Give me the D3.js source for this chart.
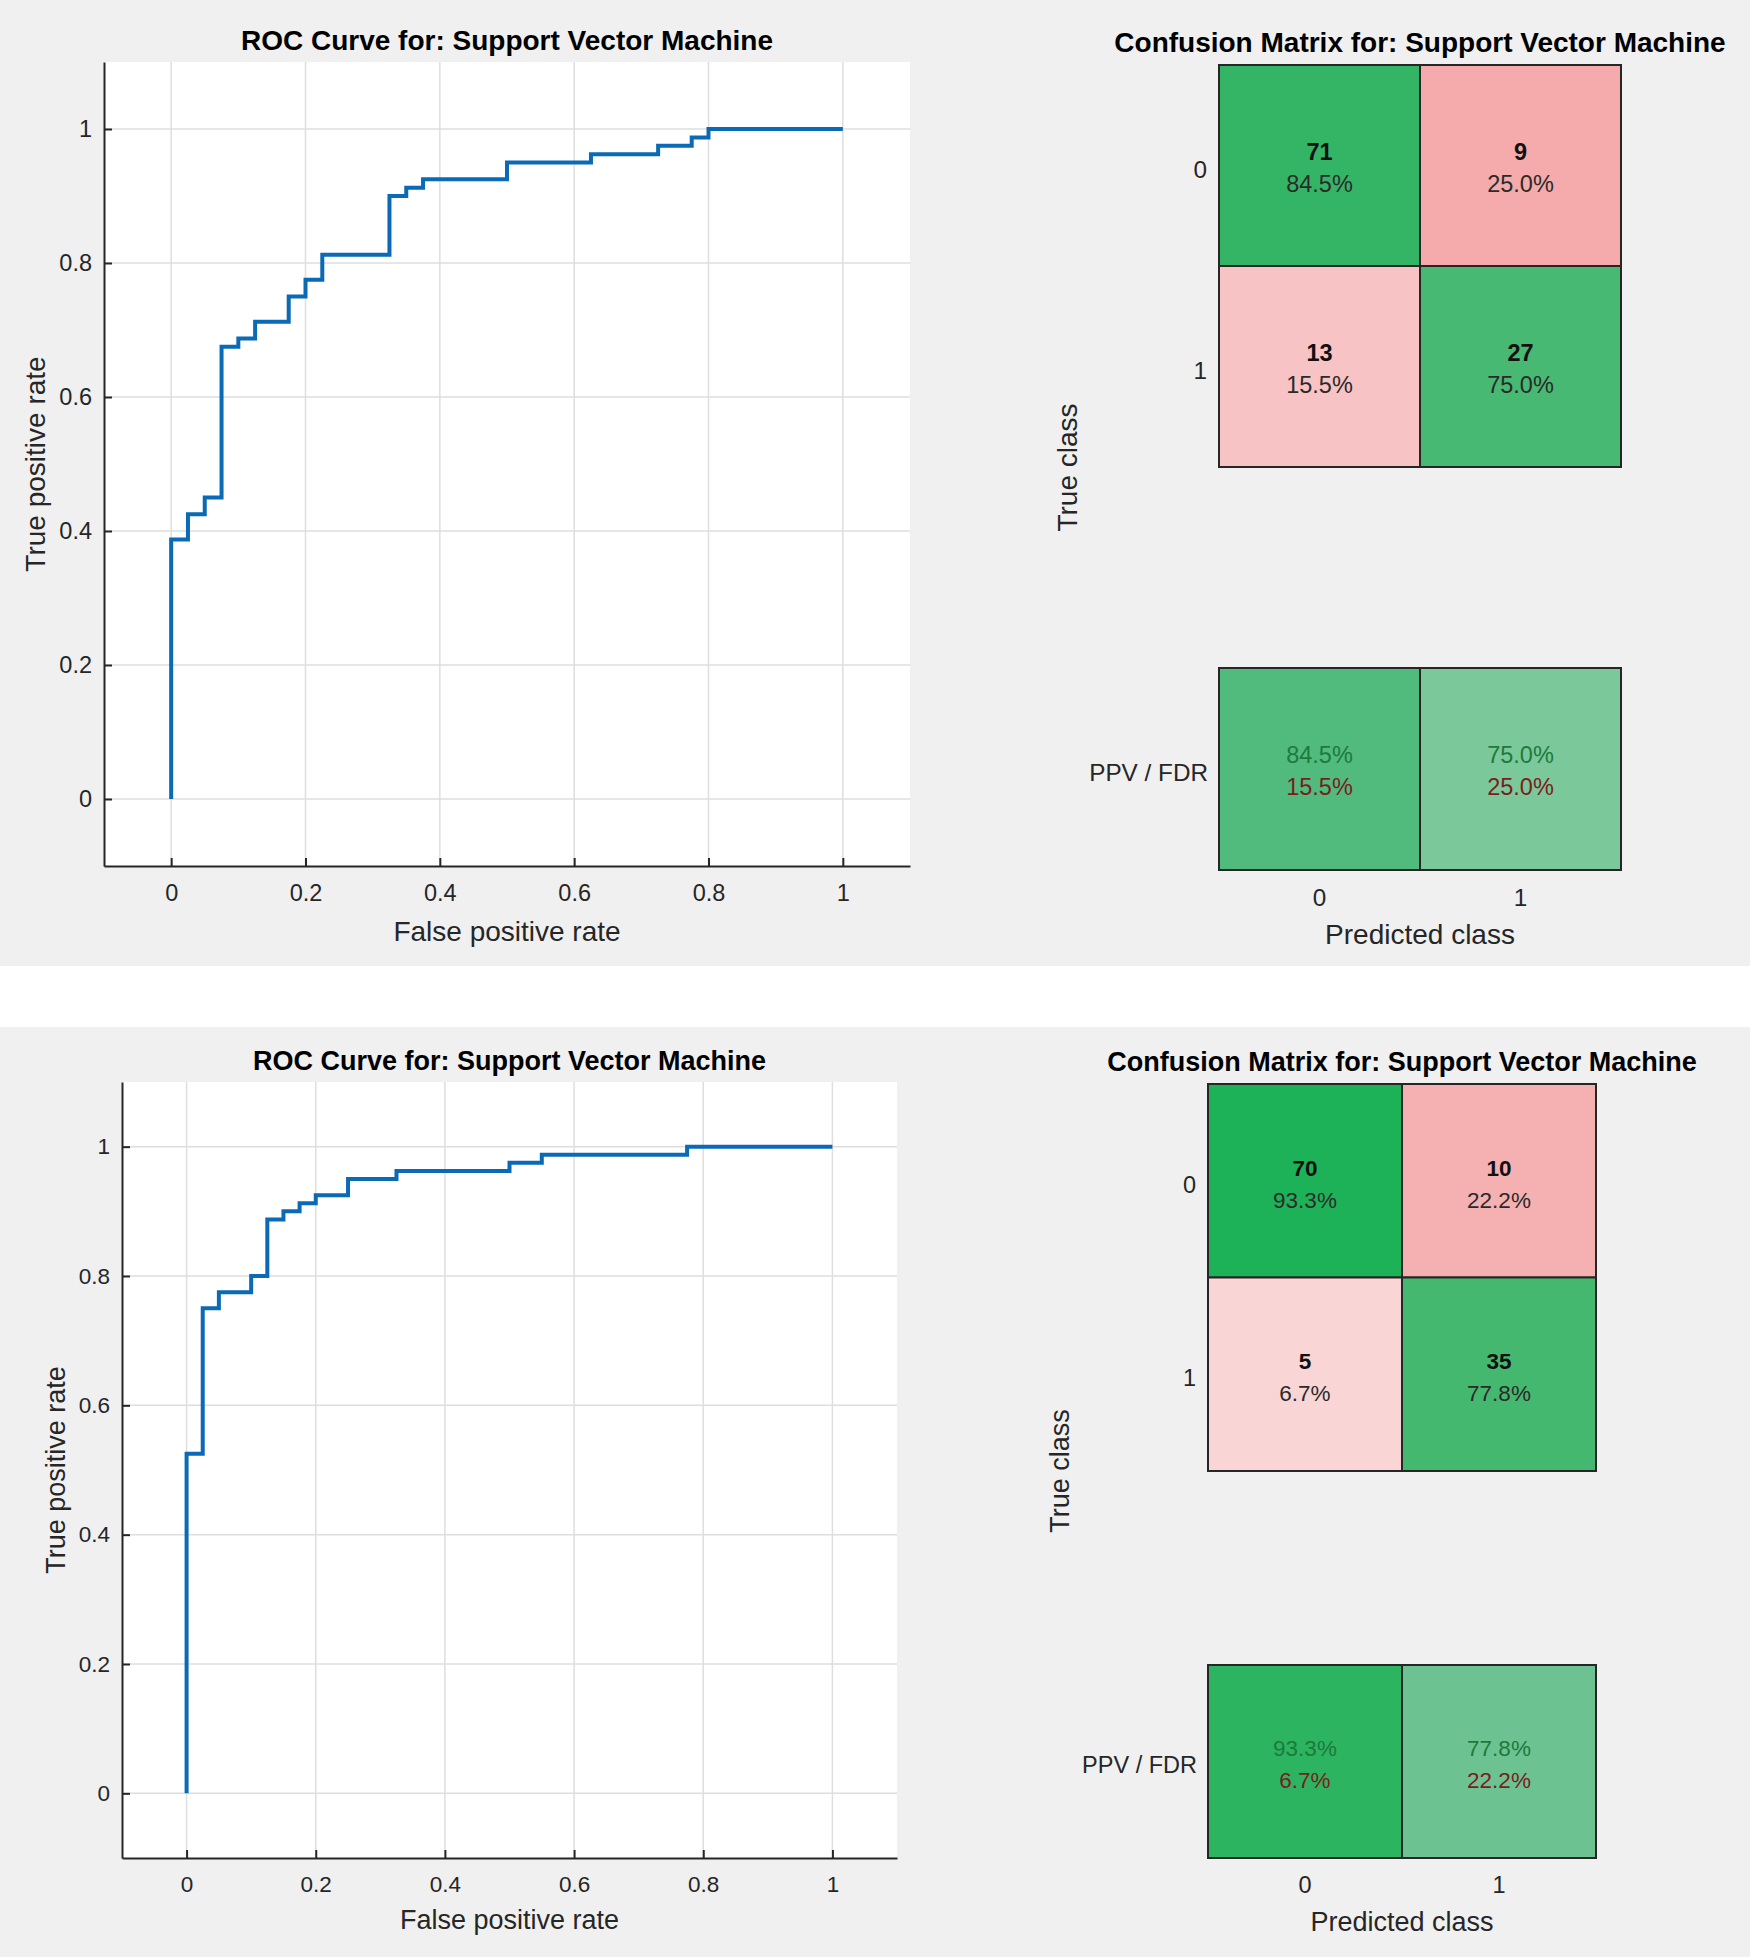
<!DOCTYPE html>
<html>
<head>
<meta charset="utf-8">
<script src="https://cdn.jsdelivr.net/npm/d3@7"></script>
<style>
  body { margin: 0; background: #ffffff; }
  text { font-family: "Liberation Sans", Arial, Helvetica, sans-serif; }
</style>
</head>
<body>
<div class="svg-content"></div>
<script>
// ROC corners (false positive rate, true positive rate), drawn as steps
const roc1Fpr = [0, 0, 0.025, 0.05, 0.075, 0.1, 0.125, 0.175, 0.2, 0.225, 0.325, 0.35, 0.375, 0.5, 0.625, 0.725, 0.775, 0.8, 1];
const roc1Tpr = [0, 0.3875, 0.425, 0.45, 0.675, 0.6875, 0.7125, 0.75, 0.775, 0.8125, 0.9, 0.9125, 0.925, 0.95, 0.9625, 0.975, 0.9875, 1, 1];
const roc2Fpr = [0, 0, 0.025, 0.05, 0.1, 0.125, 0.15, 0.175, 0.2, 0.25, 0.325, 0.5, 0.55, 0.775, 1];
const roc2Tpr = [0, 0.525, 0.75, 0.775, 0.8, 0.8875, 0.9, 0.9125, 0.925, 0.95, 0.9625, 0.975, 0.9875, 1, 1];

const rocTicks = [0, 0.2, 0.4, 0.6, 0.8, 1];
const rocTickLabels = ["0", "0.2", "0.4", "0.6", "0.8", "1"];

// confusion matrices: rows = true class, cols = predicted class
const classes = ["0", "1"];
const cm1Counts = [[71, 9], [13, 27]];
const cm2Counts = [[70, 10], [5, 35]];

const rocTitle = "ROC Curve for: Support Vector Machine";
const cmTitle = "Confusion Matrix for: Support Vector Machine";

// styles
const bg = "#f0f0f0";
const axisColor = "#262626";
const gridColor = "#dedede";
const lineColor = "#0a6ab6";
const cm1Fill = [["#34b566", "#f5aaab"], ["#f8c3c4", "#47b973"]];
const ppv1Fill = ["#50bb7d", "#7bc89a"];
const cm2Fill = [["#1eb258", "#f5b0b1"], ["#f9d5d6", "#45b870"]];
const ppv2Fill = ["#2cb460", "#6cc391"];

const svgWidth = 1750;
const svgHeight = 1957;

let svg = d3.select(".svg-content")
            .append("svg")
            .attr("width", svgWidth)
            .attr("height", svgHeight);

svg.append("rect").attr("x", 0).attr("y", 0).attr("width", svgWidth).attr("height", 966).attr("fill", bg);
svg.append("rect").attr("x", 0).attr("y", 1027).attr("width", svgWidth).attr("height", svgHeight - 1027).attr("fill", bg);

function drawRoc(fpr, tpr, box) {
  const g = svg.append("g");
  const xScale = d3.scaleLinear().domain([-0.1, 1.1]).range([box.left, box.right]);
  const yScale = d3.scaleLinear().domain([-0.1, 1.1]).range([box.bottom, box.top]);

  g.append("rect")
   .attr("x", box.left).attr("y", box.top)
   .attr("width", box.right - box.left).attr("height", box.bottom - box.top)
   .attr("fill", "#ffffff");

  // grid
  g.selectAll(".gx").data(rocTicks).enter().append("line")
   .attr("x1", d => xScale(d)).attr("x2", d => xScale(d))
   .attr("y1", box.top).attr("y2", box.bottom)
   .attr("stroke", gridColor).attr("stroke-width", 1.5);
  g.selectAll(".gy").data(rocTicks).enter().append("line")
   .attr("y1", d => yScale(d)).attr("y2", d => yScale(d))
   .attr("x1", box.left).attr("x2", box.right)
   .attr("stroke", gridColor).attr("stroke-width", 1.5);

  const xAxis = d3.axisBottom(xScale)
                  .tickValues(rocTicks)
                  .tickFormat((d, i) => rocTickLabels[i])
                  .tickSizeInner(-8).tickSizeOuter(0)
                  .tickPadding(box.xPad);
  const yAxis = d3.axisLeft(yScale)
                  .tickValues(rocTicks)
                  .tickFormat((d, i) => rocTickLabels[i])
                  .tickSizeInner(-8).tickSizeOuter(0)
                  .tickPadding(12);

  const gx = g.append("g")
              .attr("transform", "translate(0," + box.bottom + ")")
              .call(xAxis);
  const gy = g.append("g")
              .attr("transform", "translate(" + box.left + ",0)")
              .call(yAxis);
  [gx, gy].forEach(a => {
    a.select(".domain").attr("stroke", axisColor).attr("stroke-width", 2);
    a.selectAll(".tick line").attr("stroke", axisColor).attr("stroke-width", 2);
    a.selectAll(".tick text").attr("fill", axisColor).attr("font-size", box.tickFont);
  });

  const pts = fpr.map((f, i) => [f, tpr[i]]);
  const line = d3.line()
                 .x(d => xScale(d[0]))
                 .y(d => yScale(d[1]))
                 .curve(d3.curveStepAfter);
  g.append("path")
   .datum(pts)
   .attr("d", line)
   .attr("fill", "none")
   .attr("stroke", lineColor)
   .attr("stroke-width", 4);

  g.append("text")
   .attr("x", (box.left + box.right) / 2).attr("y", box.titleY).attr("dy", "0.35em")
   .attr("text-anchor", "middle").attr("font-weight", "bold")
   .attr("font-size", box.titleFont).attr("fill", "#000")
   .text(rocTitle);
  g.append("text")
   .attr("x", (box.left + box.right) / 2).attr("y", box.xLabelY).attr("dy", "0.35em")
   .attr("text-anchor", "middle").attr("font-size", box.labelFont).attr("fill", axisColor)
   .text("False positive rate");
  g.append("text")
   .attr("transform", "translate(" + box.yLabelX + "," + (box.top + box.bottom) / 2 + ") rotate(-90)")
   .attr("dy", "0.35em")
   .attr("text-anchor", "middle").attr("font-size", box.labelFont).attr("fill", axisColor)
   .text("True positive rate");
}

function drawCm(counts, fill, ppvFill, box) {
  const g = svg.append("g");
  const colSum = [0, 1].map(j => counts[0][j] + counts[1][j]);
  const pct = d3.format(".1%");

  const xBand = d3.scaleBand().domain(classes).range([box.left, box.right]);
  const yBand = d3.scaleBand().domain(classes).range([box.top, box.bottom]);

  const cells = [];
  classes.forEach((r, i) => classes.forEach((c, j) => {
    cells.push({ r: r, c: c, n: counts[i][j], p: counts[i][j] / colSum[j], fill: fill[i][j] });
  }));

  g.selectAll(".cell").data(cells).enter().append("rect")
   .attr("x", d => xBand(d.c)).attr("y", d => yBand(d.r))
   .attr("width", xBand.bandwidth()).attr("height", yBand.bandwidth())
   .attr("fill", d => d.fill)
   .attr("stroke", axisColor).attr("stroke-width", 2);

  g.selectAll(".cnt").data(cells).enter().append("text")
   .attr("x", d => xBand(d.c) + xBand.bandwidth() / 2)
   .attr("y", d => yBand(d.r) + yBand.bandwidth() / 2 + box.cntOff)
   .attr("dy", "0.35em").attr("text-anchor", "middle")
   .attr("font-weight", "bold").attr("font-size", box.cellFont).attr("fill", "#111")
   .text(d => d.n);
  g.selectAll(".pct").data(cells).enter().append("text")
   .attr("x", d => xBand(d.c) + xBand.bandwidth() / 2)
   .attr("y", d => yBand(d.r) + yBand.bandwidth() / 2 + box.pctOff)
   .attr("dy", "0.35em").attr("text-anchor", "middle")
   .attr("font-size", box.cellFont).attr("fill", "#2a2a2a")
   .text(d => pct(d.p));

  // PPV / FDR summary row
  const summary = classes.map((c, j) => ({ c: c, ppv: counts[j][j] / colSum[j], fill: ppvFill[j] }));
  g.selectAll(".ppv").data(summary).enter().append("rect")
   .attr("x", d => xBand(d.c)).attr("y", box.ppvTop)
   .attr("width", xBand.bandwidth()).attr("height", box.ppvBottom - box.ppvTop)
   .attr("fill", d => d.fill)
   .attr("stroke", axisColor).attr("stroke-width", 2);
  const ppvMid = (box.ppvTop + box.ppvBottom) / 2;
  g.selectAll(".ppvt").data(summary).enter().append("text")
   .attr("x", d => xBand(d.c) + xBand.bandwidth() / 2)
   .attr("y", ppvMid + box.cntOff).attr("dy", "0.35em").attr("text-anchor", "middle")
   .attr("font-size", box.cellFont).attr("fill", "#1d7a3c")
   .text(d => pct(d.ppv));
  g.selectAll(".fdrt").data(summary).enter().append("text")
   .attr("x", d => xBand(d.c) + xBand.bandwidth() / 2)
   .attr("y", ppvMid + box.pctOff).attr("dy", "0.35em").attr("text-anchor", "middle")
   .attr("font-size", box.cellFont).attr("fill", "#7a1d1d")
   .text(d => pct(1 - d.ppv));

  // tick labels
  g.selectAll(".yt").data(classes).enter().append("text")
   .attr("x", box.left - 12).attr("y", d => yBand(d) + yBand.bandwidth() / 2 + 4)
   .attr("dy", "0.35em").attr("text-anchor", "end")
   .attr("font-size", box.tickFont).attr("fill", axisColor)
   .text(d => d);
  g.append("text")
   .attr("x", box.left - 11).attr("y", ppvMid + 3).attr("dy", "0.35em").attr("text-anchor", "end")
   .attr("font-size", box.tickFont).attr("fill", axisColor)
   .text("PPV / FDR");
  g.selectAll(".xt").data(classes).enter().append("text")
   .attr("x", d => xBand(d) + xBand.bandwidth() / 2).attr("y", box.ppvBottom + 27)
   .attr("dy", "0.35em").attr("text-anchor", "middle")
   .attr("font-size", box.tickFont).attr("fill", axisColor)
   .text(d => d);

  g.append("text")
   .attr("x", (box.left + box.right) / 2).attr("y", box.ppvBottom + 64).attr("dy", "0.35em")
   .attr("text-anchor", "middle").attr("font-size", box.labelFont).attr("fill", axisColor)
   .text("Predicted class");
  g.append("text")
   .attr("transform", "translate(" + box.yLabelX + "," + (box.top + box.ppvBottom) / 2 + ") rotate(-90)")
   .attr("dy", "0.35em").attr("text-anchor", "middle")
   .attr("font-size", box.labelFont).attr("fill", axisColor)
   .text("True class");
  g.append("text")
   .attr("x", box.titleX).attr("y", box.titleY).attr("dy", "0.35em")
   .attr("text-anchor", "middle").attr("font-weight", "bold")
   .attr("font-size", box.titleFont).attr("fill", "#000")
   .text(cmTitle);
}

drawRoc(roc1Fpr, roc1Tpr, {
  left: 104, right: 910, top: 62, bottom: 866, xPad: 18,
  titleY: 40, xLabelY: 931, yLabelX: 35,
  tickFont: 23.5, labelFont: 28, titleFont: 28
});
drawRoc(roc2Fpr, roc2Tpr, {
  left: 122, right: 897, top: 1082, bottom: 1858, xPad: 18,
  titleY: 1061, xLabelY: 1920, yLabelX: 56,
  tickFont: 22.5, labelFont: 27, titleFont: 27
});

drawCm(cm1Counts, cm1Fill, ppv1Fill, {
  left: 1219, right: 1621, top: 65, bottom: 467, ppvTop: 668, ppvBottom: 870,
  titleX: 1420, titleY: 42, yLabelX: 1067,
  cntOff: -14, pctOff: 18,
  cellFont: 23.5, tickFont: 24.3, labelFont: 28, titleFont: 28
});
drawCm(cm2Counts, cm2Fill, ppv2Fill, {
  left: 1208, right: 1596, top: 1084, bottom: 1278 + 193, ppvTop: 1665, ppvBottom: 1858,
  titleX: 1402, titleY: 1062, yLabelX: 1060,
  cntOff: -13, pctOff: 19,
  cellFont: 22.5, tickFont: 23.5, labelFont: 27, titleFont: 27
});
</script>
</body>
</html>
